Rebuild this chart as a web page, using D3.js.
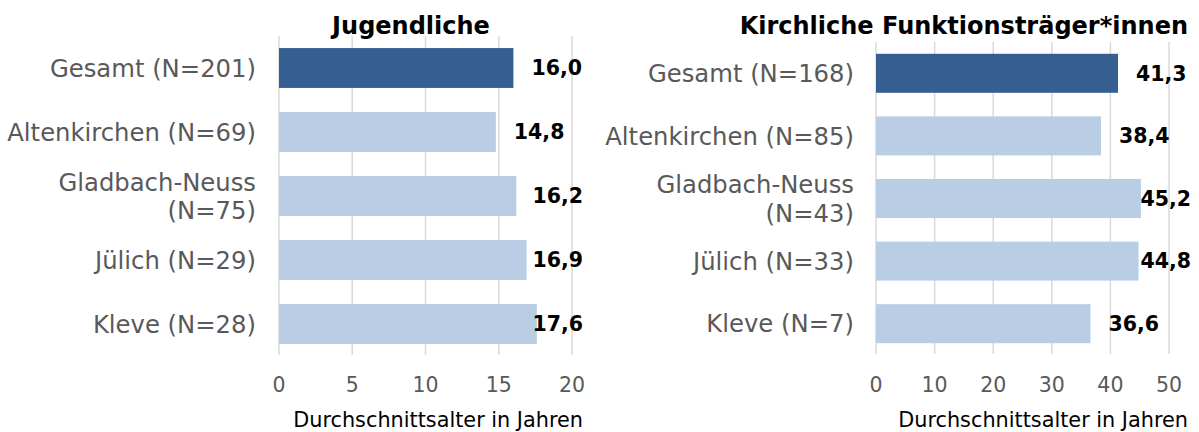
<!DOCTYPE html>
<html>
<head>
<meta charset="utf-8">
<script src="https://cdn.jsdelivr.net/npm/d3@7"></script>
<style>
	body { margin: 0; background: #fff; }
	text { font-family: "DejaVu Sans", Verdana, sans-serif; }
	.cat { fill: #595959; font-size: 24.3px; }
	.tick-label { fill: #595959; font-size: 20.5px; }
	.val { fill: #000; font-size: 20.5px; font-weight: bold; }
	.title { fill: #000; font-size: 24px; font-weight: bold; }
	.axis-title { fill: #000; font-size: 20.8px; }
</style>
</head>
<body>
<div id="chart"></div>
<script>
// Durchschnittsalter: Jugendliche vs. kirchliche Funktionsträger*innen
var categoriesJugend = ["Gesamt (N=201)", "Altenkirchen (N=69)", "Gladbach-Neuss (N=75)", "Jülich (N=29)", "Kleve (N=28)"];
var valuesJugend = [16.0, 14.8, 16.2, 16.9, 17.6];
var ticksJugend = [0, 5, 10, 15, 20];

var categoriesKirche = ["Gesamt (N=168)", "Altenkirchen (N=85)", "Gladbach-Neuss (N=43)", "Jülich (N=33)", "Kleve (N=7)"];
var valuesKirche = [41.3, 38.4, 45.2, 44.8, 36.6];
var ticksKirche = [0, 10, 20, 30, 40, 50];

var titles = ["Jugendliche", "Kirchliche Funktionsträger*innen"];
var axisTitle = "Durchschnittsalter in Jahren";

var width = 1199, height = 432;
var darkBlue = "#365f91", lightBlue = "#b9cde5", gridColor = "#d9d9d9";

var svg = d3.select("#chart").append("svg")
	.attr("width", width)
	.attr("height", height);

var panels = [
	{ cats: categoriesJugend, vals: valuesJugend, ticks: ticksJugend, title: titles[0],
	  x0: 279, x1: 572, y0: 36, y1: 356, labelRight: 256, valLimit: 583,
	  titleX: 411, titleAnchor: "middle", axisEnd: 583 },
	{ cats: categoriesKirche, vals: valuesKirche, ticks: ticksKirche, title: titles[1],
	  x0: 876, x1: 1169, y0: 42, y1: 355, labelRight: 854, valLimit: 1191,
	  titleX: 1188, titleAnchor: "end", axisEnd: 1188 }
];

panels.forEach(function(p) {
	var data = p.cats.map(function(c, i) { return { cat: c, val: p.vals[i], first: i === 0 }; });

	var x = d3.scaleLinear()
		.domain([p.ticks[0], p.ticks[p.ticks.length - 1]])
		.range([p.x0, p.x1]);

	var y = d3.scaleBand()
		.domain(p.cats)
		.range([p.y0, p.y1])
		.paddingInner(0.377)
		.paddingOuter(0.377 / 2);

	var g = svg.append("g");

	// gridlines
	g.append("g")
		.selectAll("line")
		.data(p.ticks)
		.enter().append("line")
		.attr("x1", function(d) { return x(d); })
		.attr("x2", function(d) { return x(d); })
		.attr("y1", p.y0)
		.attr("y2", p.y1 - 1)
		.attr("stroke", gridColor)
		.attr("stroke-width", 1.5);

	// tick labels
	g.append("g")
		.selectAll("text")
		.data(p.ticks)
		.enter().append("text")
		.attr("class", "tick-label")
		.attr("x", function(d) { return x(d); })
		.attr("y", 392)
		.attr("text-anchor", "middle")
		.text(function(d) { return d; });

	// bars
	g.append("g")
		.selectAll("rect")
		.data(data)
		.enter().append("rect")
		.attr("x", x(0))
		.attr("y", function(d) { return y(d.cat); })
		.attr("width", function(d) { return x(d.val) - x(0); })
		.attr("height", y.bandwidth())
		.attr("fill", function(d) { return d.first ? darkBlue : lightBlue; });

	// value labels, pushed back in when they would run past the edge
	g.append("g")
		.selectAll("text")
		.data(data)
		.enter().append("text")
		.attr("class", "val")
		.attr("y", function(d) { return y(d.cat) + y.bandwidth() / 2; })
		.attr("dy", "0.36em")
		.text(function(d) { return d3.format(".1f")(d.val).replace(".", ","); })
		.attr("x", function(d) {
			var w = this.getComputedTextLength();
			return Math.min(x(d.val) + 18, p.valLimit - w);
		});

	// category labels, wrapped when too long
	g.append("g")
		.selectAll("text")
		.data(data)
		.enter().append("text")
		.attr("class", "cat")
		.attr("text-anchor", "end")
		.attr("x", p.labelRight)
		.attr("y", function(d) { return y(d.cat) + y.bandwidth() / 2; })
		.each(function(d) {
			var el = d3.select(this);
			el.text(d.cat);
			if (this.getComputedTextLength() > 265) {
				var ix = d.cat.lastIndexOf(" ");
				el.text(null);
				el.append("tspan").attr("x", p.labelRight).attr("dy", "-0.22em").text(d.cat.substring(0, ix));
				el.append("tspan").attr("x", p.labelRight).attr("dy", "1.17em").text(d.cat.substring(ix + 1));
			} else {
				el.attr("dy", "0.36em");
			}
		});

	// titles
	g.append("text")
		.attr("class", "title")
		.attr("x", p.titleX)
		.attr("y", 34)
		.attr("text-anchor", p.titleAnchor)
		.text(p.title);

	g.append("text")
		.attr("class", "axis-title")
		.attr("x", p.axisEnd)
		.attr("y", 427)
		.attr("text-anchor", "end")
		.text(axisTitle);
});
</script>
</body>
</html>
